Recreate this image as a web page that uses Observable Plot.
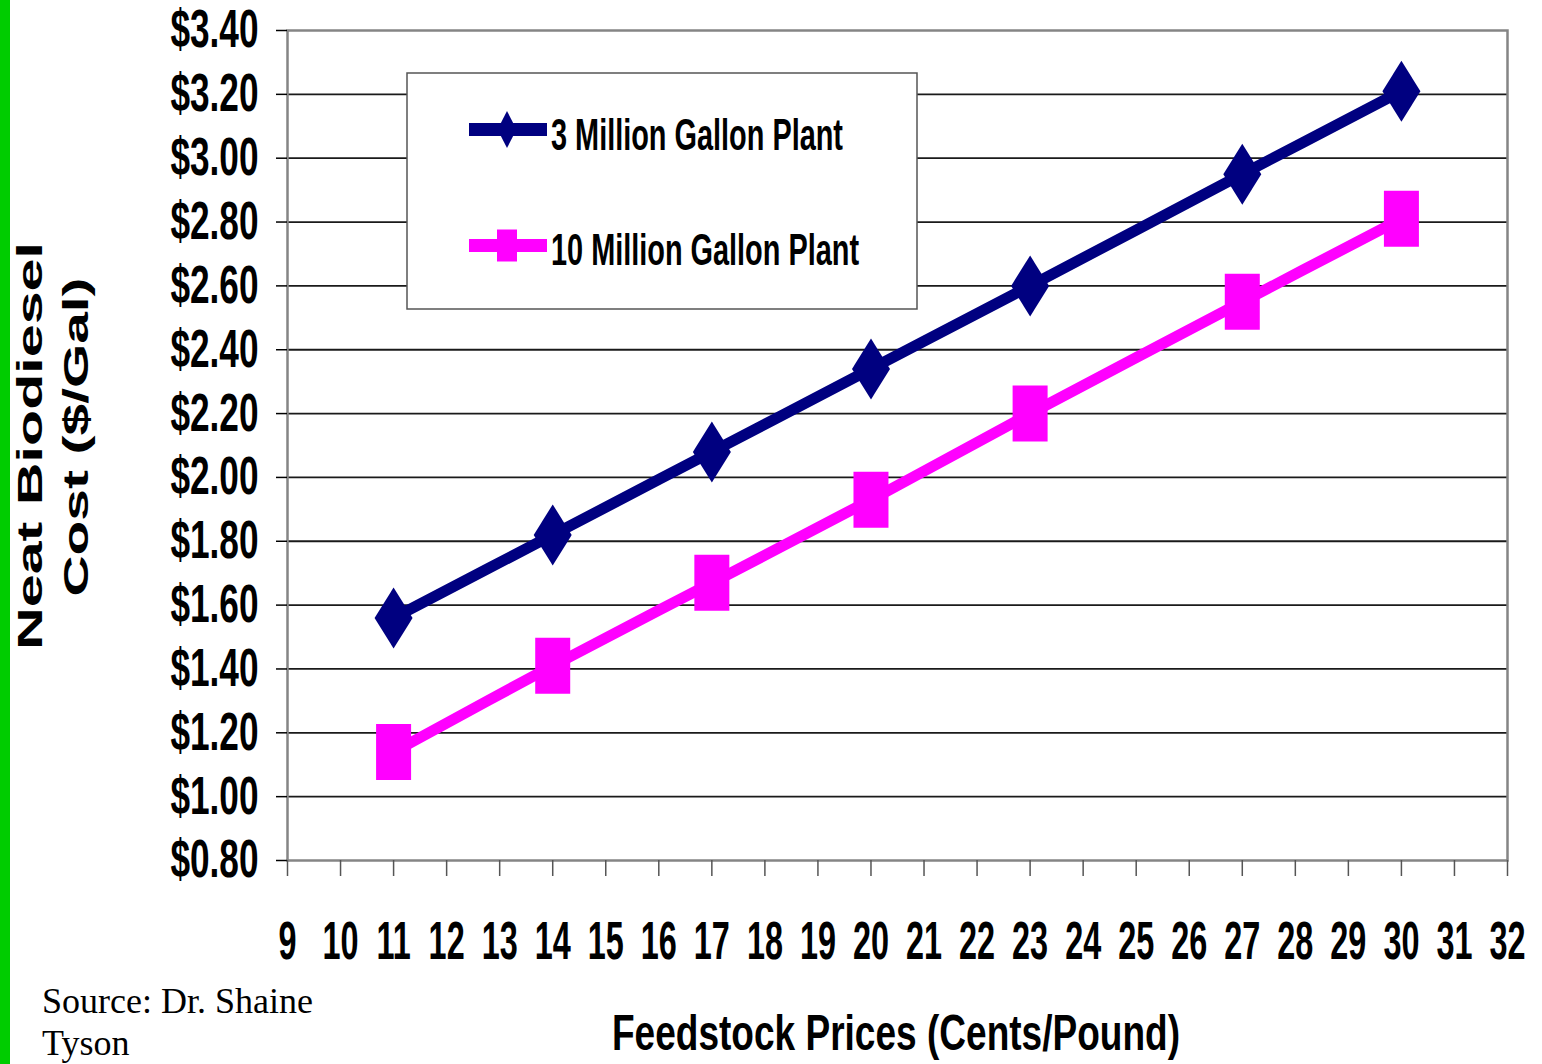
<!DOCTYPE html>
<html><head><meta charset="utf-8">
<script src="https://cdn.jsdelivr.net/npm/d3@7"></script>
<script src="https://cdn.jsdelivr.net/npm/@observablehq/plot@0.6"></script>
<style>
html,body{margin:0;padding:0;background:#fff;overflow:hidden;width:1542px;height:1064px}
#wrap{position:relative;width:1542px;height:1064px}
#chart{position:absolute;left:0;top:0}
#overlay{position:absolute;left:0;top:0}
</style></head>
<body><div id="wrap"><div id="chart"></div>
<svg id="overlay" width="1542" height="1064" xmlns="http://www.w3.org/2000/svg"></svg></div>
<script>
// ---- data ----
const prices = [11, 14, 17, 20, 23, 27, 30];
const plant3 = [1.56, 1.82, 2.08, 2.34, 2.60, 2.95, 3.21];
const plant10 = [1.14, 1.41, 1.67, 1.93, 2.20, 2.55, 2.81];
const seriesNames = ["3 Million Gallon Plant", "10 Million Gallon Plant"];
const xTicks = [9, 10, 11, 12, 13, 14, 15, 16, 17, 18, 19, 20, 21, 22, 23, 24, 25, 26, 27, 28, 29, 30, 31, 32];
const yTicks = [0.8, 1.0, 1.2, 1.4, 1.6, 1.8, 2.0, 2.2, 2.4, 2.6, 2.8, 3.0, 3.2, 3.4];
const yTitle = ["Neat Biodiesel", "Cost ($/Gal)"];
const xTitle = "Feedstock Prices (Cents/Pound)";
const sourceLines = ["Source: Dr. Shaine", "Tyson"];

const colors = ["#000080", "#FF00FF"];
const rows3 = prices.map((x, i) => ({x, y: plant3[i], s: seriesNames[0]}));
const rows10 = prices.map((x, i) => ({x, y: plant10[i], s: seriesNames[1]}));

const diamond = {draw(ctx) { ctx.moveTo(0, -30.5); ctx.lineTo(19, 0); ctx.lineTo(0, 30.5); ctx.lineTo(-19, 0); ctx.closePath(); }};
const square = {draw(ctx) { ctx.rect(-17.5, -28, 35, 56); }};

const FONT = "'Liberation Sans', Arial, sans-serif";

const chart = Plot.plot({
  width: 1542,
  height: 975,
  marginLeft: 287,
  marginRight: 35,
  marginTop: 30,
  marginBottom: 115,
  style: {fontFamily: FONT, background: "transparent", overflow: "visible"},
  x: {domain: [9, 32]},
  y: {domain: [0.8, 3.4]},
  marks: [
    Plot.ruleY(yTicks.slice(1, -1), {stroke: "#1a1a1a", strokeWidth: 1.8}),
    Plot.frame({stroke: "#858585", strokeWidth: 2.5}),
    Plot.axisY({ticks: yTicks, tickFormat: d => "$" + d.toFixed(2), tickSize: 11, tickPadding: 18,
      fontSize: 53, fontWeight: "bold", stroke: "#000", strokeWidth: 1.5, color: "#000", label: null}),
    Plot.axisX({ticks: xTicks, tickFormat: d => String(d), tickSize: 16, tickPadding: 44,
      fontSize: 54, fontWeight: "bold", stroke: "#555", strokeWidth: 1.5, color: "#000", label: null}),
    Plot.line(rows3, {x: "x", y: "y", stroke: colors[0], strokeWidth: 11, curve: "catmull-rom"}),
    Plot.line(rows10, {x: "x", y: "y", stroke: colors[1], strokeWidth: 11, curve: "catmull-rom"}),
    Plot.dot(rows3, {x: "x", y: "y", symbol: diamond, fill: colors[0], stroke: "none", r: 10}),
    Plot.dot(rows10, {x: "x", y: "y", symbol: square, fill: colors[1], stroke: "none", r: 10})
  ]
});
document.getElementById("chart").appendChild(chart);

// condense axis tick labels (narrow bold face of the original)
function squeeze(root, axis, sx) {
  root.querySelectorAll("g[aria-label]").forEach(g => {
    const lab = g.getAttribute("aria-label");
    if (!(lab.startsWith(axis) && lab.endsWith("tick label"))) return;
    g.querySelectorAll("text").forEach(t => {
      const tr = t.getAttribute("transform");
      const xa = t.getAttribute("x");
      let pre = "";
      if (xa != null && !isNaN(+xa)) { pre = `translate(${+xa},0) `; t.removeAttribute("x"); }
      t.setAttribute("transform", (tr ? tr + " " : "") + pre + `scale(${sx},1)`);
    });
  });
}
squeeze(chart, "y-axis", 0.664);
squeeze(chart, "x-axis", 0.6);

// ---- overlay: legend, titles, source ----
const ov = d3.select("#overlay");
ov.append("rect").attr("x", 0).attr("y", 0).attr("width", 10).attr("height", 1064).attr("fill", "#00CC00");

const lg = ov.append("g");
lg.append("rect").attr("x", 407).attr("y", 73).attr("width", 510).attr("height", 236)
  .attr("fill", "#fff").attr("stroke", "#555").attr("stroke-width", 1.5);
const items = [
  {name: seriesNames[0], color: colors[0], cy: 129.5, base: 150, len: 292, sym: "diamond"},
  {name: seriesNames[1], color: colors[1], cy: 245.5, base: 265, len: 308, sym: "square"}
];
items.forEach(it => {
  lg.append("line").attr("x1", 469).attr("x2", 547).attr("y1", it.cy).attr("y2", it.cy)
    .attr("stroke", it.color).attr("stroke-width", 13);
  if (it.sym === "diamond") {
    lg.append("path").attr("d", `M507,${it.cy - 18.5}L516.5,${it.cy}L507,${it.cy + 18.5}L497.5,${it.cy}Z`).attr("fill", it.color);
  } else {
    lg.append("rect").attr("x", 497).attr("y", it.cy - 16).attr("width", 20).attr("height", 32).attr("fill", it.color);
  }
  lg.append("text").attr("x", 551).attr("y", it.base).attr("font-family", FONT).attr("font-weight", "bold")
    .attr("font-size", 45).attr("textLength", it.len).attr("lengthAdjust", "spacingAndGlyphs")
    .attr("fill", "#000").text(it.name);
});

// y title (rotated, two lines)
[[42, 446, 408], [88, 437, 319]].forEach(([bx, cy, len], i) => {
  ov.append("text").attr("transform", `translate(${bx},${cy}) rotate(-90)`)
    .attr("text-anchor", "middle").attr("font-family", FONT).attr("font-weight", "bold")
    .attr("font-size", 35).attr("textLength", len).attr("lengthAdjust", "spacingAndGlyphs")
    .attr("fill", "#000").text(yTitle[i]);
});

// x title
ov.append("text").attr("x", 612).attr("y", 1050).attr("font-family", FONT).attr("font-weight", "bold")
  .attr("font-size", 50).attr("textLength", 568).attr("lengthAdjust", "spacingAndGlyphs")
  .attr("fill", "#000").text(xTitle);

// source note
sourceLines.forEach((s, i) => {
  ov.append("text").attr("x", 42).attr("y", 1013 + i * 42).attr("font-family", "'Liberation Serif', 'Times New Roman', serif")
    .attr("font-size", 36).attr("fill", "#000").text(s);
});
</script></body></html>
